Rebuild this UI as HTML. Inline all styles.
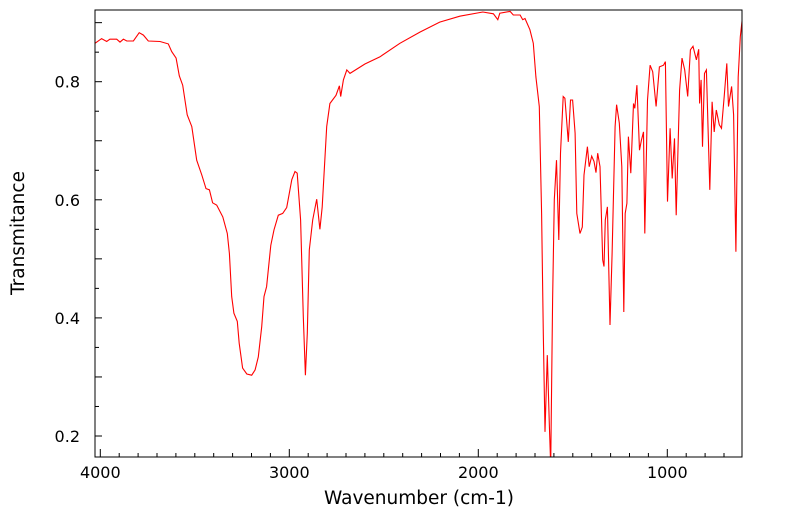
<!DOCTYPE html>
<html><head><meta charset="utf-8"><style>
body{margin:0;background:#fff;}
svg{display:block;font-family:"DejaVu Sans","Liberation Sans",sans-serif;}
</style></head><body>
<svg id="chart" width="799" height="516" viewBox="0 0 799 516">
<defs><clipPath id="clip"><rect x="95" y="10" width="647" height="447"/></clipPath></defs>
<g id="axes"></g>
<path id="spectrum" fill="none" stroke="#ff0000" stroke-width="1.1" clip-path="url(#clip)"/>
<rect x="95" y="10" width="647" height="447" fill="none" stroke="#000" stroke-width="1"/>
<text x="419" y="504" font-size="18.5" text-anchor="middle">Wavenumber (cm-1)</text>
<text transform="translate(24,233) rotate(-90)" font-size="18.5" text-anchor="middle">Transmitance</text>
</svg>
<script>
const wavenumbers=[4028,3993,3966,3949,3913,3896,3878,3860,3825,3794,3772,3746,3684,3640,3622,3599,3582,3564,3540,3516,3490,3463,3441,3423,3406,3384,3352,3328,3317,3305,3293,3275,3265,3247,3225,3199,3181,3164,3146,3134,3120,3098,3081,3058,3035,3014,2987,2970,2958,2940,2926,2915,2905,2894,2876,2855,2838,2826,2802,2785,2753,2735,2728,2714,2696,2679,2600,2521,2415,2309,2204,2098,1976,1920,1897,1886,1832,1815,1779,1765,1753,1727,1709,1695,1677,1665,1656,1647,1635,1624,1617,1607,1598,1586,1574,1565,1551,1542,1524,1512,1501,1488,1479,1462,1450,1441,1423,1413,1400,1388,1377,1368,1356,1342,1335,1328,1317,1303,1292,1276,1268,1254,1241,1230,1223,1214,1206,1193,1179,1172,1161,1147,1137,1126,1119,1105,1091,1077,1059,1042,1020,1010,999,985,974,962,953,935,922,908,892,878,864,846,834,829,821,814,803,793,775,763,752,741,725,713,699,685,676,660,649,637,625,614,602];
const transmittance=[0.865,0.873,0.868,0.872,0.872,0.867,0.872,0.869,0.869,0.883,0.879,0.869,0.868,0.864,0.851,0.840,0.810,0.794,0.744,0.724,0.667,0.642,0.619,0.617,0.595,0.591,0.571,0.543,0.509,0.436,0.408,0.394,0.357,0.315,0.305,0.303,0.312,0.334,0.385,0.436,0.453,0.523,0.549,0.574,0.577,0.587,0.634,0.648,0.645,0.566,0.402,0.303,0.374,0.515,0.566,0.601,0.550,0.588,0.724,0.763,0.777,0.793,0.775,0.803,0.820,0.814,0.830,0.842,0.865,0.884,0.901,0.911,0.918,0.915,0.905,0.916,0.919,0.913,0.913,0.905,0.907,0.888,0.865,0.808,0.758,0.577,0.374,0.207,0.337,0.216,0.150,0.430,0.600,0.667,0.532,0.679,0.775,0.772,0.698,0.769,0.769,0.713,0.577,0.543,0.554,0.642,0.690,0.656,0.674,0.665,0.646,0.679,0.656,0.498,0.487,0.566,0.588,0.388,0.509,0.724,0.761,0.730,0.656,0.410,0.577,0.594,0.707,0.645,0.763,0.755,0.794,0.684,0.701,0.715,0.543,0.769,0.828,0.817,0.758,0.825,0.828,0.834,0.597,0.721,0.636,0.704,0.574,0.786,0.840,0.820,0.775,0.854,0.860,0.837,0.855,0.763,0.803,0.690,0.814,0.820,0.617,0.766,0.715,0.752,0.727,0.721,0.775,0.831,0.758,0.792,0.744,0.512,0.808,0.876,0.910];
const xTickLabels=[4000,3000,2000,1000];
const yTickLabels=[0.2,0.4,0.6,0.8];

const xs=w=>100.3+(4000-w)*0.189;
const ys=t=>81.7-(t-0.8)*590.5;
const NS='http://www.w3.org/2000/svg';
const axes=document.getElementById('axes');
function mk(tag,attrs){const e=document.createElementNS(NS,tag);for(const k in attrs)e.setAttribute(k,attrs[k]);axes.appendChild(e);return e;}

for(let w=4000;w>=700;w-=100){
  const major=w%1000===0;
  const t=mk('line',{x1:xs(w),x2:xs(w),y1:457,y2:457-(major?8:4),stroke:'#000'});
  
  
}
xTickLabels.forEach(v=>{
  const t=mk('text',{x:xs(v),y:478,'font-size':16,'text-anchor':'middle'});
  t.textContent=v;
  
  
});
for(let k=4;k<=18;k++){
  const v=k*0.05;const y=ys(v);
  if(y<10||y>457)continue;
  const major=k%2===0;
  const t=mk('line',{x1:95,x2:95+(major?7:4),y1:y,y2:y,stroke:'#000'});
  
  
}
yTickLabels.forEach(v=>{
  const t=mk('text',{x:80,y:ys(v)+6,'font-size':16,'text-anchor':'end'});
  t.textContent=v.toFixed(1);
  
  
});
let d='';
wavenumbers.forEach((w,i)=>{d+=(i?'L':'M')+xs(w).toFixed(1)+','+ys(transmittance[i]).toFixed(1);});
document.getElementById('spectrum').setAttribute('d',d);
</script>
</body></html>
